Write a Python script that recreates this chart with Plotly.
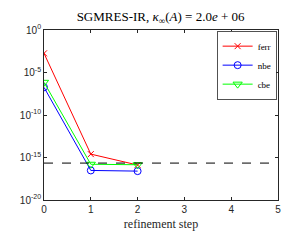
import plotly.graph_objects as go

steps = [0, 1, 2]
ferr = [1.8e-3, 2.5e-15, 1.3e-16]
nbe = [1.8e-7, 3.0e-17, 2.5e-17]
cbe = [7e-7, 1.6e-16, 1.4e-16]
eps_line = 2.2e-16
ytick_vals = [1e0, 1e-5, 1e-10, 1e-15, 1e-20]
ytick_text = ["10<sup>0</sup>", "10<sup>-5</sup>", "10<sup>-10</sup>", "10<sup>-15</sup>", "10<sup>-20</sup>"]

fig = go.Figure()
fig.add_trace(go.Scatter(x=steps, y=ferr, name="ferr", mode="lines+markers",
                         line=dict(color="#ff0000", width=1),
                         marker=dict(symbol="x-thin-open", size=6, line=dict(color="#ff0000", width=1))))
fig.add_trace(go.Scatter(x=steps, y=nbe, name="nbe", mode="lines+markers",
                         line=dict(color="#0000ff", width=1),
                         marker=dict(symbol="circle-open", size=7, line=dict(color="#0000ff", width=1))))
fig.add_trace(go.Scatter(x=steps, y=cbe, name="cbe", mode="lines+markers",
                         line=dict(color="#00ff00", width=1),
                         marker=dict(symbol="triangle-down-open", size=8, line=dict(color="#00ff00", width=1))))
fig.add_trace(go.Scatter(x=[0, 5], y=[eps_line, eps_line], mode="lines", showlegend=False,
                         line=dict(color="black", width=1, dash="dash"), hoverinfo="skip"))

axis_common = dict(showline=True, linecolor="#262626", linewidth=0.8, mirror="ticks",
                   ticks="inside", ticklen=3, tickcolor="#262626", showgrid=False, zeroline=False,
                   automargin=False,
                   tickfont=dict(family="Liberation Sans, Arial", size=10, color="#262626"))

fig.update_layout(
    width=292, height=240,
    margin=dict(l=44, r=14, t=30, b=40, autoexpand=False),
    paper_bgcolor="white", plot_bgcolor="white",
    title=dict(text="SGMRES-IR, <i>κ</i><sub>∞</sub>(<i>A</i>) = 2.0<i>e</i> + 06",
               x=0.55, xanchor="center", y=0.93, yanchor="middle",
               font=dict(family="Liberation Serif, Times New Roman", size=13, color="black")),
    xaxis=dict(range=[0, 5], tickmode="linear", tick0=0, dtick=1,
               title=dict(text="refinement step", standoff=5,
                          font=dict(family="Liberation Serif, Times New Roman", size=12, color="#262626")),
               **axis_common),
    yaxis=dict(type="log", range=[-20, 0], tickvals=ytick_vals, ticktext=ytick_text, **axis_common),
    legend=dict(x=0.995, y=0.995, xanchor="right", yanchor="top",
                bgcolor="white", bordercolor="#262626", borderwidth=0.8,
                font=dict(family="Liberation Serif, Times New Roman", size=9, color="black"),
                itemwidth=30, tracegroupgap=0),
    showlegend=True,
)

fig.write_html("out.html", config={"displayModeBar": False},
               post_script="document.body.style.margin='0';document.body.style.padding='0';")
